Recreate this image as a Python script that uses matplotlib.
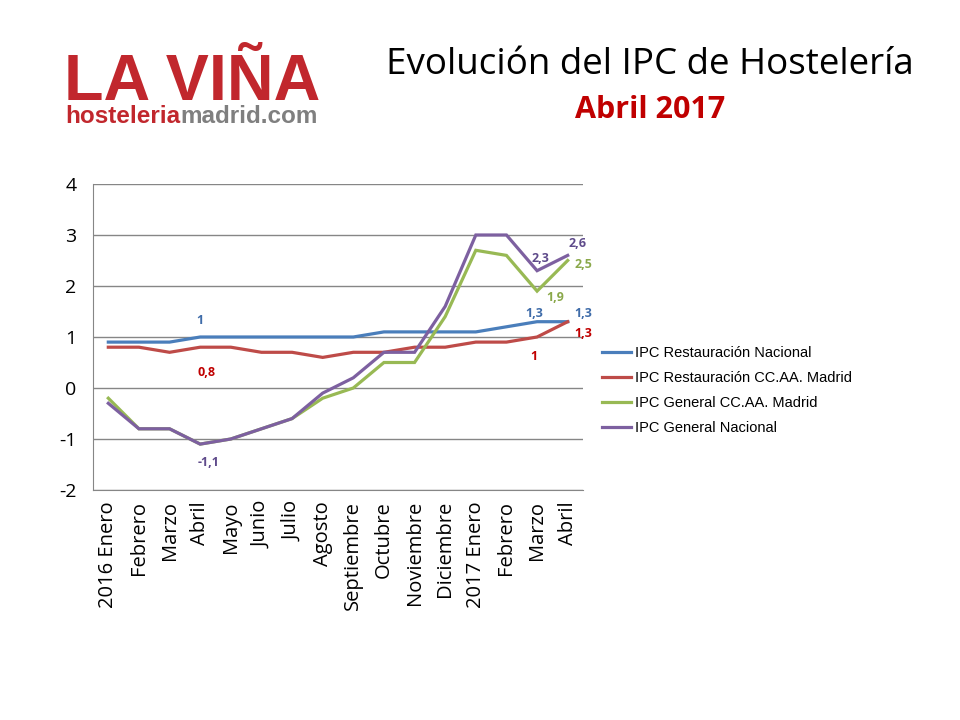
import matplotlib
matplotlib.use("Agg")
import matplotlib.pyplot as plt

months = ["2016 Enero", "Febrero", "Marzo", "Abril", "Mayo", "Junio", "Julio", "Agosto",
          "Septiembre", "Octubre", "Noviembre", "Diciembre", "2017 Enero", "Febrero", "Marzo", "Abril"]
rest_nac = [0.9, 0.9, 0.9, 1.0, 1.0, 1.0, 1.0, 1.0, 1.0, 1.1, 1.1, 1.1, 1.1, 1.2, 1.3, 1.3]
rest_mad = [0.8, 0.8, 0.7, 0.8, 0.8, 0.7, 0.7, 0.6, 0.7, 0.7, 0.8, 0.8, 0.9, 0.9, 1.0, 1.3]
gen_mad = [-0.2, -0.8, -0.8, -1.1, -1.0, -0.8, -0.6, -0.2, 0.0, 0.5, 0.5, 1.4, 2.7, 2.6, 1.9, 2.5]
gen_nac = [-0.3, -0.8, -0.8, -1.1, -1.0, -0.8, -0.6, -0.1, 0.2, 0.7, 0.7, 1.6, 3.0, 3.0, 2.3, 2.6]
series_names = ["IPC Restauración Nacional", "IPC Restauración CC.AA. Madrid",
                "IPC General CC.AA. Madrid", "IPC General Nacional"]
yticks = [-2, -1, 0, 1, 2, 3, 4]

line_colors = ["#4A7EBB", "#BE4B48", "#98B954", "#7D60A0"]
label_colors = ["#3F6CA9", "#C00000", "#8AA84A", "#5F4B8B"]

fig = plt.figure(figsize=(9.6, 7.2), dpi=100)
ax = fig.add_axes([93/960, 1-490/720, 490/960, 306/720])

x = list(range(len(months)))
series = [rest_nac, rest_mad, gen_mad, gen_nac]
for s, name, c in zip(series, series_names, line_colors):
    ax.plot(x, s, color=c, lw=2.3, label=name, solid_joinstyle="miter")

ax.set_xlim(-0.5, len(months) - 0.5)
ax.set_ylim(-2, 4)
ax.set_yticks(yticks)
ax.set_yticklabels([str(v) for v in yticks], fontsize=14, family="Open Sans")
ax.set_xticks(x)
ax.set_xticklabels(months, rotation=90, fontsize=14.5, family="Open Sans")
ax.tick_params(length=0)
ax.tick_params(axis="x", pad=8)
ax.tick_params(axis="y", pad=12)
ax.grid(axis="y", color="#868686", lw=1)
ax.set_axisbelow(True)
for sp in ["top", "right"]:
    ax.spines[sp].set_visible(False)
ax.spines["left"].set_color("#868686")
ax.spines["bottom"].set_color("#868686")

# data labels: (series index, point index, text, dx px, dy px up)
labels = [
    (0, 3, "1", 0, 17), (0, 14, "1,3", -3, 8), (0, 15, "1,3", 16, 8),
    (1, 3, "0,8", 6, -25), (1, 14, "1", -3, -19), (1, 15, "1,3", 16, -12),
    (2, 14, "1,9", 18, -6), (2, 15, "2,5", 16, -4),
    (3, 3, "-1,1", 8, -18), (3, 14, "2,3", 3, 12), (3, 15, "2,6", 10, 12),
]
for si, pi, txt, dx, dy in labels:
    ax.annotate(txt, xy=(pi, series[si][pi]), xytext=(dx, dy), textcoords="offset pixels",
                ha="center", va="center", fontsize=9, fontweight="bold",
                color=label_colors[si], family="Open Sans", annotation_clip=False)

fig.legend(loc="upper left", bbox_to_anchor=(596/960, 1-340/720), frameon=False,
           prop={"family": "Liberation Sans", "size": 10.5}, handlelength=2.0,
           handletextpad=0.3, labelspacing=0.75, borderaxespad=0)

# titles
fig.text(650/960, 1-65/720, "Evolución del IPC de Hostelería", ha="center", va="center",
         fontsize=26.5, family="Open Sans", color="black")
fig.text(650/960, 1-110/720, "Abril 2017", ha="center", va="center",
         fontsize=22, family="Open Sans", fontweight="bold", color="#C00000")

# logo
fig.text(64/960, 1-100/720, "LA VIÑA", ha="left", va="baseline", fontsize=46.5,
         family="Liberation Sans", fontweight="bold", color="#C1272D")
t1 = fig.text(65/960, 1-123/720, "hosteleria", ha="left", va="baseline", fontsize=17.5,
              family="Liberation Sans", fontweight="bold", color="#C1272D")
plt.annotate("madrid.com", xy=(1, 0), xycoords=t1, ha="left", va="bottom", fontsize=17.5,
             family="Liberation Sans", fontweight="bold", color="#7F7F7F", annotation_clip=False)

fig.savefig("out.png", dpi=100)
